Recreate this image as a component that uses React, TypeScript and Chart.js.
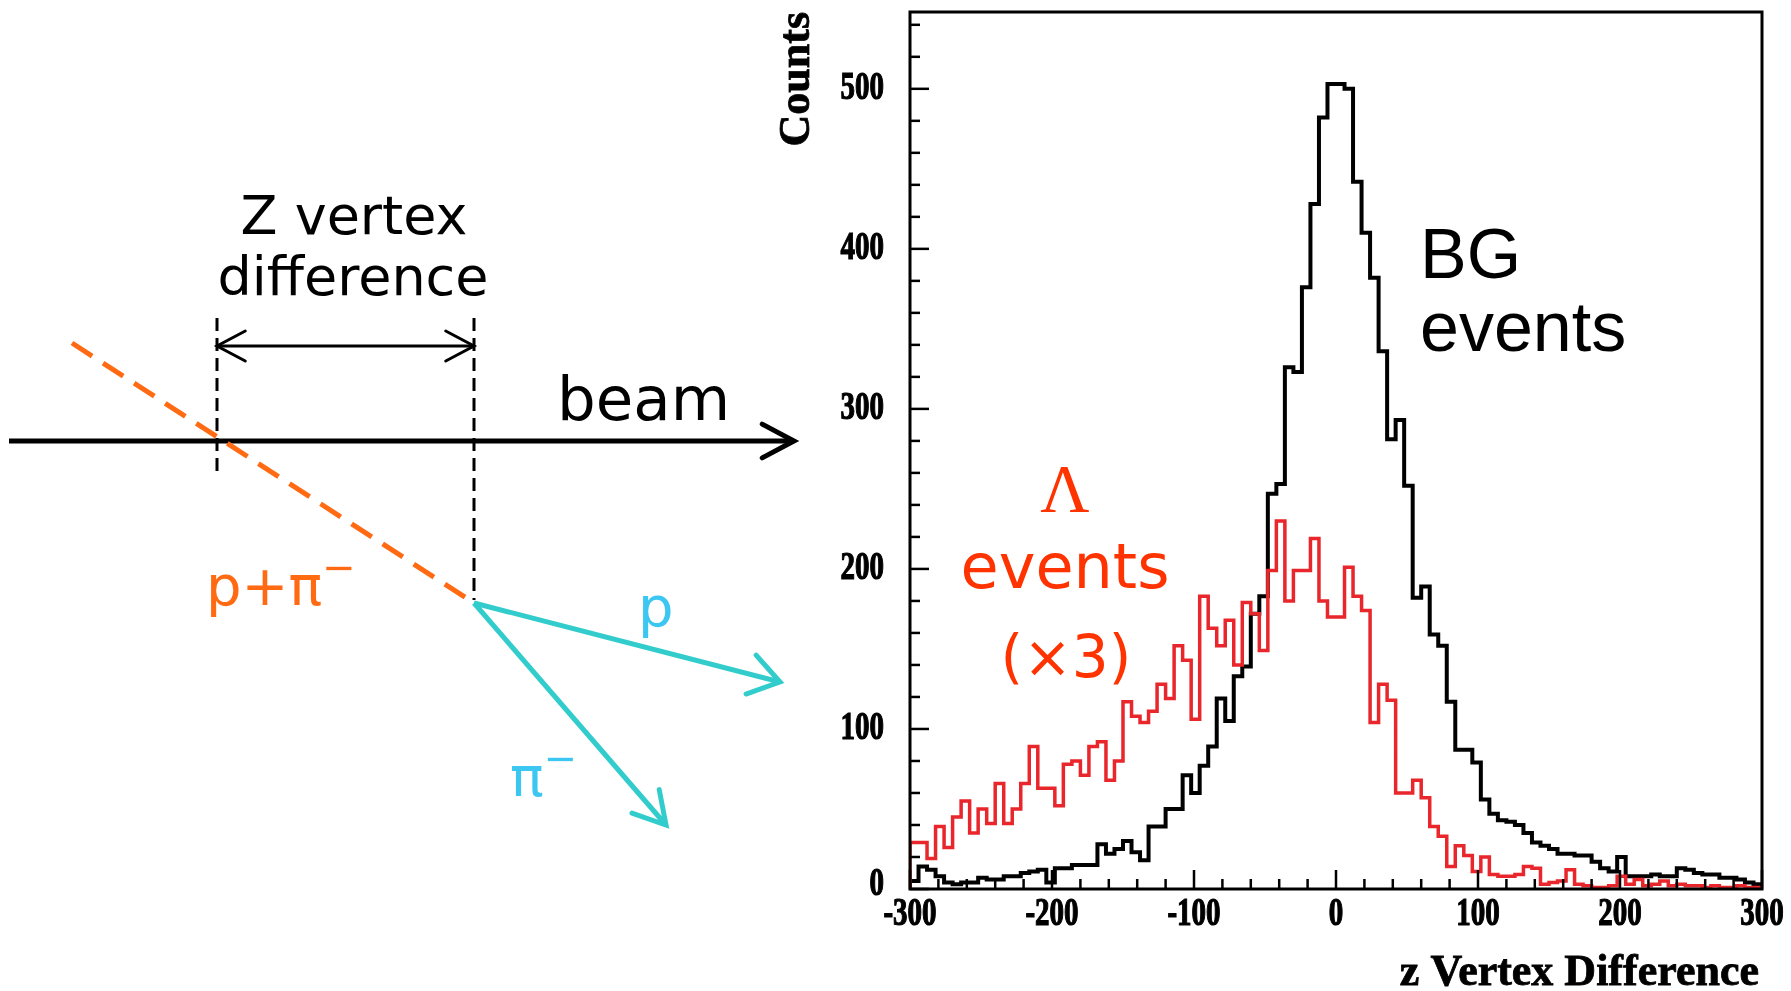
import React, { useEffect, useRef } from "react";
import { Chart, registerables } from "chart.js";
Chart.register(...registerables);

// ---- data ----
const X_MIN = -300;
const X_MAX = 300;
const BIN_WIDTH = 6;
const Y_MAX = 548;

const bgCounts = [
  5, 14, 12, 8, 4, 3, 4, 4, 7, 6,
  6, 8, 8, 10, 11, 12, 4, 13, 13, 15,
  15, 15, 28, 22, 25, 30, 23, 18, 39, 39,
  50, 50, 71, 60, 77, 89, 119, 105, 133, 139,
  172, 183, 247, 253, 326, 323, 376, 428, 482, 503,
  503, 500, 442, 410, 382, 336, 281, 293, 252, 182,
  189, 159, 152, 117, 87, 87, 79, 56, 47, 43,
  42, 40, 35, 29, 27, 25, 22, 22, 21, 21,
  17, 13, 11, 20, 8, 8, 8, 9, 8, 8,
  13, 12, 10, 9, 9, 7, 7, 6, 4, 3,
];

const lambdaCounts = [
  29, 29, 19, 39, 26, 45, 55, 35, 50, 41,
  66, 41, 50, 66, 89, 63, 63, 52, 78, 80,
  71, 89, 92, 68, 80, 117, 108, 104, 111, 128,
  119, 152, 143, 106, 183, 163, 152, 168, 140, 179,
  172, 149, 199, 230, 180, 199, 199, 219, 180, 170,
  170, 201, 183, 174, 104, 128, 118, 60, 60, 68,
  57, 39, 33, 14, 27, 21, 11, 20, 9, 8,
  8, 9, 14, 13, 3, 4, 5, 12, 3, 2,
  1, 1, 2, 8, 3, 6, 2, 3, 5, 2,
  3, 2, 2, 1, 2, 1, 1, 2, 1, 1,
];

const xTickLabels = [-300, -200, -100, 0, 100, 200, 300];
const yTickLabels = [0, 100, 200, 300, 400, 500];
const xMinorStep = 20;
const yMinorStep = 20;
const xTitle = "z Vertex Difference";
const yTitle = "Counts";

function toSteps(values: number[]) {
  const pts: { x: number; y: number }[] = [{ x: X_MIN, y: 0 }];
  values.forEach((v, i) => pts.push({ x: X_MIN + i * BIN_WIDTH, y: v }));
  pts.push({ x: X_MAX, y: values[values.length - 1] });
  pts.push({ x: X_MAX, y: 0 });
  return pts;
}

function heavyText(ctx: any, s: string, x: number, y: number, w: number) {
  ctx.lineWidth = w;
  ctx.strokeText(s, x, y);
  ctx.fillText(s, x, y);
}

const axisPlugin = {
  id: "rootAxes",
  afterDatasetsDraw(chart: any) {
    const { ctx, chartArea } = chart;
    const xs = chart.scales.x;
    const ys = chart.scales.y;
    const { left, right, top, bottom } = chartArea;
    ctx.save();
    ctx.strokeStyle = "#000";
    ctx.lineWidth = 3;
    ctx.strokeRect(left, top, right - left, bottom - top);
    ctx.lineWidth = 2.5;
    for (let v = 0; v <= Y_MAX; v += yMinorStep) {
      const y = ys.getPixelForValue(v);
      const len = v % 100 === 0 ? 19 : 10;
      ctx.beginPath();
      ctx.moveTo(left, y);
      ctx.lineTo(left + len, y);
      ctx.stroke();
    }
    for (let v = X_MIN; v <= X_MAX; v += xMinorStep) {
      const x = xs.getPixelForValue(v);
      const len = v % 100 === 0 ? 19 : 10;
      ctx.beginPath();
      ctx.moveTo(x, bottom);
      ctx.lineTo(x, bottom - len);
      ctx.stroke();
    }
    // tick labels
    ctx.fillStyle = "#000";
    ctx.strokeStyle = "#000";
    ctx.font = "bold 29px 'Liberation Serif'";
    ctx.textBaseline = "middle";
    ctx.textAlign = "right";
    yTickLabels.forEach((v) => {
      const y = ys.getPixelForValue(v);
      ctx.save();
      ctx.translate(left - 26, v === 0 ? y - 4 : y);
      ctx.scale(1, 1.35);
      heavyText(ctx, String(v), 0, 0, 0.9);
      ctx.restore();
    });
    ctx.textAlign = "center";
    xTickLabels.forEach((v) => {
      const x = xs.getPixelForValue(v);
      ctx.save();
      ctx.translate(x, bottom + 26);
      ctx.scale(1, 1.35);
      heavyText(ctx, String(v), 0, 0, 0.9);
      ctx.restore();
    });
    // axis titles
    ctx.font = "bold 44px 'Liberation Serif'";
    ctx.textAlign = "right";
    ctx.textBaseline = "alphabetic";
    heavyText(ctx, xTitle, right - 3, bottom + 96, 0.8);
    ctx.save();
    ctx.translate(left - 112, top);
    ctx.rotate(-Math.PI / 2);
    ctx.textAlign = "right";
    ctx.textBaseline = "middle";
    ctx.font = "bold 44px 'Liberation Serif'";
    heavyText(ctx, yTitle, 0, 0, 0.8);
    ctx.restore();
    // annotations
    ctx.fillStyle = "#000";
    ctx.textAlign = "left";
    ctx.textBaseline = "alphabetic";
    ctx.font = "70px 'Liberation Sans'";
    ctx.fillText("BG", 1420, 278);
    ctx.fillText("events", 1420, 351);
    ctx.fillStyle = "#ff3300";
    ctx.textAlign = "center";
    ctx.font = "68px 'Liberation Serif'";
    ctx.fillText("\u039B", 1065, 511);
    ctx.font = "62px 'DejaVu Sans'";
    ctx.fillText("events", 1065, 588);
    ctx.font = "58px 'DejaVu Sans'";
    ctx.fillText("(\u00D73)", 1066, 677);
    ctx.restore();
  },
};

function chevron(tip: number[], from: number[], len: number, deg: number): string {
  const dx = from[0] - tip[0];
  const dy = from[1] - tip[1];
  const L = Math.hypot(dx, dy);
  const ux = dx / L;
  const uy = dy / L;
  const a = (deg * Math.PI) / 180;
  const rot = (c: number, s: number) => [ux * c - uy * s, ux * s + uy * c];
  const [ax, ay] = rot(Math.cos(a), Math.sin(a));
  const [bx, by] = rot(Math.cos(-a), Math.sin(-a));
  return `${tip[0] + ax * len},${tip[1] + ay * len} ${tip[0]},${tip[1]} ${tip[0] + bx * len},${tip[1] + by * len}`;
}

function Diagram() {
  const orange = "#ff6a13";
  const cyanLine = "#33cccc";
  const cyanText = "#3cc6f2";
  const decay = [474, 603];
  const pTip = [780, 682];
  const piTip = [666, 825];
  return (
    <svg
      width={900}
      height={991}
      style={{ position: "absolute", left: 0, top: 0, pointerEvents: "none" }}
    >
      <text x={354} y={234} textAnchor="middle" fontFamily="DejaVu Sans" fontSize={54} fill="#000">
        Z vertex
      </text>
      <text x={353} y={295} textAnchor="middle" fontFamily="DejaVu Sans" fontSize={54} fill="#000">
        difference
      </text>
      <line x1={217} y1={318} x2={217} y2={474} stroke="#000" strokeWidth={3} strokeDasharray="13 7" />
      <line x1={474} y1={318} x2={474} y2={600} stroke="#000" strokeWidth={3} strokeDasharray="13 7" />
      <line x1={217} y1={346} x2={474} y2={346} stroke="#000" strokeWidth={3} />
      <polyline points={chevron([217, 346], [474, 346], 32, 28)} fill="none" stroke="#000" strokeWidth={3} strokeLinecap="round" />
      <polyline points={chevron([474, 346], [217, 346], 32, 28)} fill="none" stroke="#000" strokeWidth={3} strokeLinecap="round" />
      <line x1={9} y1={441} x2={794} y2={441} stroke="#000" strokeWidth={5} />
      <polyline points={chevron([794, 441], [9, 441], 36, 28)} fill="none" stroke="#000" strokeWidth={5} strokeLinecap="round" />
      <text x={557} y={420} fontFamily="DejaVu Sans" fontSize={61} fill="#000">
        beam
      </text>
      <line x1={72} y1={343} x2={decay[0]} y2={decay[1]} stroke={orange} strokeWidth={5} strokeDasharray="24 13" />
      <line x1={decay[0]} y1={decay[1]} x2={pTip[0]} y2={pTip[1]} stroke={cyanLine} strokeWidth={5} />
      <line x1={decay[0]} y1={decay[1]} x2={piTip[0]} y2={piTip[1]} stroke={cyanLine} strokeWidth={5} />
      <polyline points={chevron(pTip, decay, 36, 34)} fill="none" stroke={cyanLine} strokeWidth={5} strokeLinecap="round" />
      <polyline points={chevron(piTip, decay, 36, 30)} fill="none" stroke={cyanLine} strokeWidth={5} strokeLinecap="round" />
      <text x={206} y={605} fontFamily="DejaVu Sans" fontSize={56} fill={orange}>
        p+π<tspan dy={-24} fontSize={40}>−</tspan>
      </text>
      <text x={638} y={626} fontFamily="DejaVu Sans" fontSize={56} fill={cyanText}>
        p
      </text>
      <text x={510} y={796} fontFamily="DejaVu Sans" fontSize={56} fill={cyanText}>
        π<tspan dy={-24} fontSize={40}>−</tspan>
      </text>
    </svg>
  );
}

export default function App() {
  const canvasRef = useRef<HTMLCanvasElement | null>(null);
  useEffect(() => {
    if (!canvasRef.current) return;
    const chart = new Chart(canvasRef.current, {
      type: "line",
      data: {
        datasets: [
          {
            label: "Lambda events (x3)",
            data: toSteps(lambdaCounts),
            borderColor: "#e8262b",
            borderWidth: 3.5,
            stepped: true,
            pointRadius: 0,
            fill: false,
          },
          {
            label: "BG events",
            data: toSteps(bgCounts),
            borderColor: "#000000",
            borderWidth: 4,
            stepped: true,
            pointRadius: 0,
            fill: false,
          },
        ],
      },
      options: {
        animation: false,
        responsive: false,
        layout: { padding: { left: 910, right: 29, top: 12, bottom: 102 } },
        plugins: { legend: { display: false }, tooltip: { enabled: false } },
        scales: {
          x: { type: "linear", min: X_MIN, max: X_MAX, display: false },
          y: { type: "linear", min: 0, max: Y_MAX, display: false },
        },
      },
      plugins: [axisPlugin],
    } as any);
    return () => chart.destroy();
  }, []);
  return (
    <div
      style={{
        position: "absolute",
        left: 0,
        top: 0,
        width: 1791,
        height: 991,
        overflow: "hidden",
        background: "#fff",
      }}
    >
      <canvas ref={canvasRef} width={1791} height={991} style={{ position: "absolute", left: 0, top: 0 }} />
      <Diagram />
    </div>
  );
}
